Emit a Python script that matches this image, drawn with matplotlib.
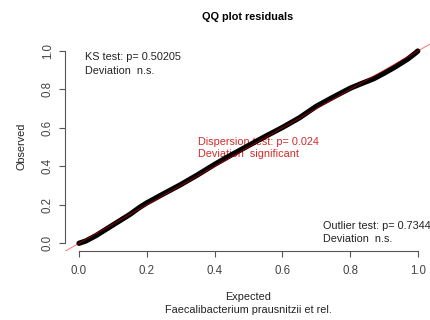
import numpy as np
import matplotlib
matplotlib.use("Agg")
import matplotlib.pyplot as plt

# quantiles of the scaled residuals: expected (uniform) vs observed
expected = [0.00, 0.02, 0.05, 0.10, 0.15, 0.18, 0.20, 0.25, 0.30, 0.35,
            0.40, 0.45, 0.50, 0.55, 0.60, 0.65, 0.70, 0.75, 0.80, 0.83,
            0.85, 0.87, 0.90, 0.93, 0.95, 0.97, 0.99, 1.00]
observed = [0.000, 0.012, 0.040, 0.095, 0.150, 0.188, 0.210, 0.258, 0.305, 0.356,
            0.410, 0.460, 0.508, 0.556, 0.602, 0.652, 0.712, 0.760, 0.806, 0.828,
            0.842, 0.856, 0.884, 0.914, 0.936, 0.958, 0.985, 1.000]

ks_p = 0.50205
disp_p = 0.024
out_p = 0.7344
taxon = "Faecalibacterium prausnitzii et rel."

plt.rcParams.update({"font.family": ["Liberation Sans", "DejaVu Sans"],
                     "font.size": 8})
AX_COL = "#555555"
TXT_COL = "#222222"
TICK_COL = "#444444"
RED = "#d42a2a"

fig = plt.figure(figsize=(4.31, 3.20), dpi=100, facecolor="white")
ax = fig.add_axes([0.1518, 0.2156, 0.849, 0.649])

ax.plot(expected, observed, color="black", lw=3.8, solid_capstyle="round",
        solid_joinstyle="round", zorder=2)
ax.plot([-0.1, 1.1], [-0.1, 1.1], color="red", lw=0.7, alpha=0.55, zorder=3)

ax.set_xlim(-0.04, 1.04)
ax.set_ylim(-0.04, 1.04)
ticks = [0.0, 0.2, 0.4, 0.6, 0.8, 1.0]
ax.set_xticks(ticks)
ax.set_yticks(ticks)
ax.set_xticklabels([f"{t:.1f}" for t in ticks])
ax.set_yticklabels([f"{t:.1f}" for t in ticks], rotation=90, va="center")
for s in ("top", "right"):
    ax.spines[s].set_visible(False)
for s in ("left", "bottom"):
    ax.spines[s].set_bounds(0, 1)
    ax.spines[s].set_color(AX_COL)
    ax.spines[s].set_linewidth(0.8)
ax.tick_params(axis="both", direction="out", length=4.3, width=0.8,
               color=AX_COL, labelcolor=TICK_COL, labelsize=8.3)
ax.tick_params(axis="x", pad=6)
ax.tick_params(axis="y", pad=4)

ax.text(0.018, 0.969, f"KS test: p= {ks_p}", fontsize=7.8, color=TXT_COL,
        va="center", ha="left")
ax.text(0.018, 0.898, "Deviation  n.s.", fontsize=7.8, color=TXT_COL,
        va="center", ha="left")
ax.text(0.351, 0.527, f"Dispersion test: p= {disp_p}", fontsize=7.8, color=RED,
        va="center", ha="left", zorder=1)
ax.text(0.351, 0.466, "Deviation  significant", fontsize=7.8, color=RED,
        va="center", ha="left", zorder=1)
ax.text(0.719, 0.091, f"Outlier test: p= {out_p}", fontsize=7.8, color=TXT_COL,
        va="center", ha="left")
ax.text(0.719, 0.021, "Deviation  n.s.", fontsize=7.8, color=TXT_COL,
        va="center", ha="left")

fig.text(248 / 431, 1 - 16.5 / 320, "QQ plot residuals", fontsize=7.8,
         fontweight="bold", ha="center", va="center", color="black")
fig.text(248 / 431, 1 - 297.5 / 320, "Expected", fontsize=7.8,
         ha="center", va="center", color=TXT_COL)
fig.text(248 / 431, 1 - 310 / 320, taxon, fontsize=7.8,
         ha="center", va="center", color=TXT_COL)
fig.text(21.5 / 431, 1 - 146.5 / 320, "Observed", fontsize=7.8, rotation=90,
         ha="center", va="center", color=TXT_COL)

fig.savefig("out.png", dpi=100, facecolor="white")
